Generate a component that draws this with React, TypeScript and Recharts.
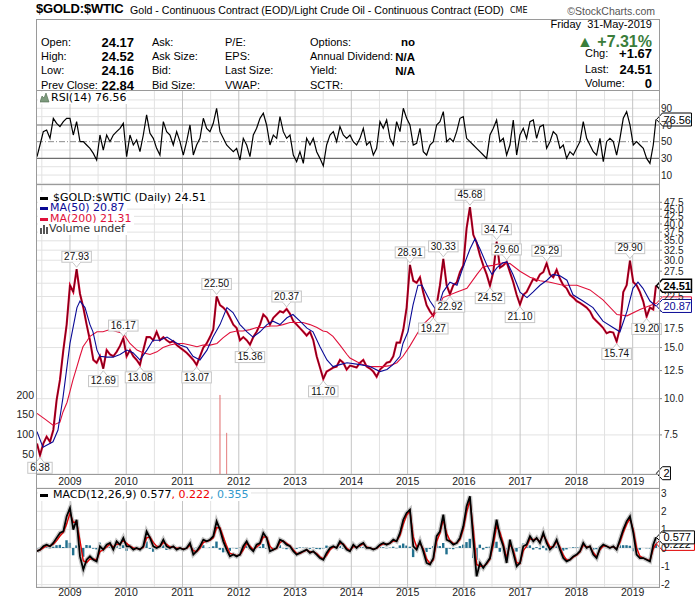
import React from 'react';
import { ComposedChart, Line, Bar, XAxis, YAxis, CartesianGrid, ReferenceLine, ReferenceDot } from 'recharts';

const ARIAL = '"Liberation Sans", Arial, Helvetica, sans-serif';
const VERD = '"DejaVu Sans", Verdana, sans-serif';

// ---------- DATA ----------
const dates = [
  2008.414, 2008.467, 2008.526, 2008.585, 2008.645, 2008.704, 2008.763, 2008.822, 2008.882, 2008.941,
  2009.000, 2009.059, 2009.118, 2009.178, 2009.237, 2009.296, 2009.355, 2009.415, 2009.474, 2009.533,
  2009.592, 2009.652, 2009.711, 2009.770, 2009.829, 2009.889, 2009.948, 2010.007, 2010.066, 2010.126,
  2010.185, 2010.244, 2010.303, 2010.362, 2010.422, 2010.481, 2010.540, 2010.599, 2010.659, 2010.718,
  2010.777, 2010.836, 2010.896, 2010.955, 2011.014, 2011.073, 2011.133, 2011.192, 2011.251, 2011.310,
  2011.370, 2011.429, 2011.488, 2011.547, 2011.606, 2011.666, 2011.725, 2011.784, 2011.843, 2011.903,
  2011.962, 2012.021, 2012.080, 2012.140, 2012.199, 2012.258, 2012.317, 2012.377, 2012.436, 2012.495,
  2012.554, 2012.614, 2012.673, 2012.732, 2012.791, 2012.850, 2012.910, 2012.969, 2013.028, 2013.087,
  2013.147, 2013.206, 2013.265, 2013.324, 2013.384, 2013.443, 2013.502, 2013.561, 2013.621, 2013.680,
  2013.739, 2013.798, 2013.857, 2013.917, 2013.976, 2014.035, 2014.094, 2014.154, 2014.213, 2014.272,
  2014.331, 2014.391, 2014.450, 2014.509, 2014.568, 2014.628, 2014.687, 2014.746, 2014.805, 2014.865,
  2014.924, 2014.983, 2015.042, 2015.101, 2015.161, 2015.220, 2015.279, 2015.338, 2015.398, 2015.457,
  2015.516, 2015.575, 2015.635, 2015.694, 2015.753, 2015.812, 2015.872, 2015.931, 2015.990, 2016.049,
  2016.108, 2016.168, 2016.227, 2016.286, 2016.345, 2016.405, 2016.464, 2016.523, 2016.582, 2016.641,
  2016.701, 2016.760, 2016.819, 2016.878, 2016.938, 2016.997, 2017.056, 2017.115, 2017.175, 2017.234,
  2017.293, 2017.352, 2017.412, 2017.471, 2017.530, 2017.589, 2017.649, 2017.708, 2017.767, 2017.826,
  2017.885, 2017.945, 2018.004, 2018.063, 2018.122, 2018.182, 2018.241, 2018.300, 2018.359, 2018.419,
  2018.478, 2018.537, 2018.596, 2018.656, 2018.715, 2018.774, 2018.833, 2018.893, 2018.952, 2019.011,
  2019.070, 2019.129, 2019.189, 2019.248, 2019.307, 2019.366, 2019.414,
];

const price = [
  7.0, 6.38, 7.0, 7.4, 7.1, 7.8, 9.9, 11.6, 14.7, 18.0,
  24.6, 23.3, 27.93, 23.0, 20.6, 18.0, 15.9, 13.6, 13.3, 14.0,
  12.69, 14.7, 14.2, 14.0, 14.5, 15.2, 16.17, 14.0, 14.7, 14.0,
  13.6, 13.08, 14.7, 16.3, 16.3, 15.9, 17.0, 15.9, 16.3, 15.9,
  15.6, 15.8, 15.3, 15.0, 14.7, 14.4, 14.0, 13.6, 13.07, 14.0,
  15.0, 15.5, 16.3, 17.3, 22.5, 21.0, 20.6, 20.0, 19.0, 18.0,
  17.5, 15.9, 16.3, 15.9, 15.36, 16.3, 17.0, 18.0, 19.5, 19.0,
  18.0, 19.0, 19.5, 20.0, 19.8, 20.37, 19.6, 18.5, 18.0, 17.5,
  17.0, 16.5, 17.0, 15.9, 14.0, 12.8, 11.7, 12.4, 12.6, 12.8,
  12.9, 13.6, 13.3, 12.6, 13.0, 12.9, 12.8, 13.3, 13.6, 12.9,
  12.7, 12.4, 11.9, 12.6, 12.9, 13.3, 13.4, 14.0, 15.6, 15.6,
  17.3, 20.6, 28.91, 25.5, 25.1, 26.2, 23.2, 21.0, 20.0, 19.27,
  21.0, 24.6, 30.33, 24.6, 22.92, 24.6, 25.1, 27.3, 28.8, 38.7,
  45.68, 36.7, 34.5, 31.2, 28.8, 26.8, 24.52, 27.3, 34.74, 28.3,
  28.8, 29.6, 27.3, 25.2, 22.8, 21.1, 22.8, 23.3, 24.6, 25.9,
  25.5, 26.8, 27.3, 29.29, 26.8, 26.2, 27.8, 25.9, 24.6, 24.0,
  22.8, 22.3, 21.7, 21.4, 21.0, 20.6, 20.0, 19.0, 18.5, 18.0,
  17.5, 16.8, 17.0, 16.9, 15.74, 17.5, 23.3, 24.6, 29.9, 25.2,
  24.6, 23.3, 21.6, 19.2, 20.6, 20.3, 24.51,
];

const rsi = [
  32, 46, 62, 64, 54, 78, 72, 68, 74, 78,
  78, 58, 74, 50, 50, 46, 42, 36, 28, 58,
  40, 58, 50, 58, 62, 66, 72, 32, 58, 46,
  52, 38, 58, 82, 60, 54, 42, 34, 74, 62,
  58, 46, 62, 50, 34, 50, 70, 34, 46, 54,
  78, 66, 62, 72, 90, 62, 54, 46, 42, 38,
  42, 28, 54, 46, 32, 58, 66, 78, 84, 70,
  46, 58, 54, 80, 62, 54, 58, 34, 26, 38,
  24, 54, 46, 54, 38, 30, 21, 46, 58, 62,
  50, 68, 58, 54, 58, 50, 46, 54, 66, 46,
  50, 34, 42, 74, 66, 76, 54, 46, 74, 62,
  90, 78, 70, 46, 48, 66, 38, 34, 46, 50,
  70, 74, 86, 50, 54, 50, 62, 78, 80, 54,
  50, 46, 42, 38, 34, 30, 58, 66, 76, 50,
  54, 34, 46, 76, 34, 58, 66, 54, 74, 76,
  54, 68, 70, 42, 50, 62, 58, 42, 46, 30,
  38, 34, 42, 50, 74, 54, 46, 38, 34, 54,
  26, 50, 54, 50, 34, 54, 78, 86, 70, 46,
  50, 46, 42, 30, 24, 46, 76.56,
];

const macd = [
  -0.18, -0.1, 0.09, 0.18, 0.09, 0.27, 0.55, 0.82, 0.9, 1.72,
  2.18, 1.0, 1.54, -0.46, -1.18, -0.64, -0.46, -0.64, -0.73, 0.09,
  -0.09, 0.18, 0.27, -0.09, 0.36, 0.18, 0.55, 0.09, 0.09, -0.09,
  0, -0.09, 0.09, 0.9, 0.55, 0.09, 0, 0.09, 0.45, 0.09,
  0, 0.09, -0.09, 0, -0.09, 0, 0.27, -0.36, -0.18, 0.09,
  0.45, 0.36, 0.45, 0.64, 1.45, 1.0, 0.36, -0.09, -0.46, -0.36,
  -0.46, -0.36, 0.09, 0.36, 0, -0.18, 0.18, 0.27, 0.82, 0.55,
  -0.18, -0.09, 0, 0.45, 0.36, 0.18, 0.09, -0.18, -0.36, -0.27,
  -0.18, -0.09, -0.27, -0.18, -0.36, -0.55, -0.64, -0.27, 0, 0.09,
  0, 0.36, 0.18, -0.09, -0.18, 0.18, 0, 0.18, 0.27, 0,
  0, -0.09, 0, 0.18, 0.27, 0.18, 0.27, 0.45, 0.36, 0.82,
  1.54, 1.91, 2.09, 0.09, -0.09, 0.36, -0.18, -0.82, -0.91, -0.55,
  0.64, 0.9, 1.82, 0.45, 0.36, 0.18, 0.27, 0.55, 1.18, 2.27,
  2.82, 0.45, -1.55, -0.82, -1.09, -0.82, -0.55, 0.45, 1.54, 0.64,
  0.09, -0.82, 0.45, -0.27, -1.0, -0.82, 0.09, 0.18, 0.64, 0.36,
  0.55, 0.27, 0.82, 0.27, -0.09, 0.09, 0.45, -0.09, -0.55, -0.73,
  -0.64, -0.46, -0.36, -0.18, 0.27, 0, 0.09, -0.36, -0.55, 0,
  0.18, 0.09, 0, 0.09, -0.09, 0.45, 1.0, 1.45, 1.72, 0.82,
  -0.36, -0.55, -0.55, -0.64, -0.73, 0.18, 0.577,
];

const signal = [
  -0.15, -0.12, 0.0, 0.12, 0.12, 0.2, 0.4, 0.65, 0.85, 1.3,
  1.9, 1.4, 1.4, 0.4, -0.7, -0.8, -0.6, -0.6, -0.65, -0.2,
  -0.1, 0.05, 0.2, 0.05, 0.2, 0.22, 0.4, 0.25, 0.1, 0.0,
  -0.03, -0.05, 0.02, 0.55, 0.6, 0.3, 0.1, 0.08, 0.3, 0.2,
  0.05, 0.06, -0.02, -0.01, -0.05, -0.02, 0.15, -0.15, -0.2, -0.02,
  0.3, 0.36, 0.42, 0.55, 1.1, 1.1, 0.6, 0.1, -0.3, -0.35,
  -0.42, -0.38, -0.1, 0.25, 0.1, -0.1, 0.05, 0.2, 0.6, 0.6,
  0.1, -0.1, -0.03, 0.3, 0.38, 0.25, 0.12, -0.1, -0.3, -0.3,
  -0.2, -0.12, -0.22, -0.2, -0.3, -0.48, -0.6, -0.4, -0.1, 0.05,
  0.02, 0.25, 0.22, 0.0, -0.15, 0.08, 0.05, 0.12, 0.23, 0.05,
  0.0, -0.06, -0.02, 0.12, 0.23, 0.2, 0.25, 0.38, 0.38, 0.68,
  1.3, 1.78, 2.02, 0.6, 0.05, 0.25, -0.05, -0.6, -0.85, -0.65,
  0.35, 0.8, 1.55, 0.8, 0.4, 0.25, 0.25, 0.45, 1.0, 1.95,
  2.6, 1.0, -0.9, -1.0, -1.0, -0.88, -0.62, 0.15, 1.2, 0.85,
  0.25, -0.55, 0.2, -0.1, -0.8, -0.85, -0.15, 0.1, 0.5, 0.45,
  0.5, 0.35, 0.7, 0.4, 0.05, 0.05, 0.35, 0.05, -0.4, -0.65,
  -0.65, -0.5, -0.4, -0.22, 0.15, 0.05, 0.08, -0.25, -0.48, -0.1,
  0.12, 0.1, 0.02, 0.06, -0.05, 0.3, 0.85, 1.3, 1.6, 1.0,
  0.0, -0.45, -0.55, -0.62, -0.7, -0.05, 0.222,
];

const hist = [
  -0.03, 0.02, 0.09, 0.06, -0.03, 0.07, 0.15, 0.17, 0.05, 0.42,
  0.28, -0.4, 0.14, -0.6, -0.48, 0.16, 0.14, -0.04, -0.08, 0.29,
  0.01, 0.13, 0.07, -0.14, 0.16, -0.04, 0.15, -0.16, -0.01, -0.09,
  0.03, -0.04, 0.07, 0.35, -0.05, -0.21, -0.1, 0.01, 0.15, -0.11,
  -0.05, 0.03, -0.07, 0.01, -0.04, 0.02, 0.12, -0.21, 0.02, 0.11,
  0.15, 0.0, 0.03, 0.09, 0.35, -0.1, -0.24, -0.19, -0.16, -0.01,
  -0.04, 0.02, 0.19, 0.11, -0.1, -0.08, 0.13, 0.07, 0.22, -0.05,
  -0.28, 0.01, 0.03, 0.15, -0.02, -0.07, -0.03, -0.08, -0.06, 0.03,
  0.02, 0.03, -0.05, 0.02, -0.06, -0.07, -0.04, 0.13, 0.1, 0.04,
  -0.02, 0.11, -0.04, -0.09, -0.03, 0.1, -0.05, 0.06, 0.04, -0.05,
  0, -0.03, 0.02, 0.06, 0.04, -0.02, 0.02, 0.07, -0.02, 0.14,
  0.24, 0.13, 0.07, -0.5, -0.14, 0.11, -0.13, -0.22, -0.06, 0.1,
  0.29, 0.1, 0.27, -0.35, -0.04, -0.07, 0.02, 0.1, 0.18, 0.32,
  0.5, -0.55, -0.65, 0.18, -0.09, 0.06, 0.07, 0.3, 0.34, -0.21,
  -0.16, -0.27, 0.25, -0.17, -0.2, 0.03, 0.24, 0.08, 0.14, -0.09,
  0.05, -0.08, 0.12, -0.13, -0.14, 0.04, 0.1, -0.14, -0.15, -0.08,
  0.01, 0.04, 0.04, 0.04, 0.12, -0.05, 0.01, -0.11, -0.07, 0.1,
  0.06, -0.01, -0.02, 0.03, -0.04, 0.15, 0.15, 0.15, 0.12, -0.18,
  -0.36, -0.1, 0.0, -0.02, -0.03, 0.23, 0.355,
];

const ma50Points: [number, number][] = [
  [2008.414, 7.7], [2008.52, 6.8], [2008.698, 7.1], [2008.787, 7.8], [2008.876, 10.1], [2008.947, 12.9],
  [2009.0, 15.5], [2009.053, 17.5], [2009.124, 20.6], [2009.178, 21.7], [2009.267, 20.6], [2009.355, 18.0],
  [2009.409, 17.0], [2009.48, 14.7], [2009.533, 14.0], [2009.658, 13.9], [2009.764, 13.9], [2009.889, 14.2],
  [2010.013, 14.7], [2010.12, 14.4], [2010.244, 13.6], [2010.368, 14.7], [2010.475, 15.9], [2010.599, 15.9],
  [2010.724, 16.3], [2010.831, 15.8], [2010.955, 15.3], [2011.079, 15.0], [2011.186, 14.0], [2011.31, 13.6],
  [2011.435, 14.7], [2011.541, 16.3], [2011.666, 18.0], [2011.79, 20.6], [2011.897, 19.8], [2012.021, 18.0],
  [2012.146, 17.0], [2012.252, 16.3], [2012.377, 17.0], [2012.501, 18.0], [2012.608, 18.5], [2012.732, 18.0],
  [2012.856, 19.0], [2012.963, 19.5], [2013.088, 18.5], [2013.212, 17.5], [2013.319, 17.0], [2013.443, 15.1],
  [2013.567, 13.6], [2013.674, 12.9], [2013.798, 13.1], [2013.923, 13.3], [2014.154, 13.1], [2014.331, 12.9],
  [2014.509, 12.4], [2014.634, 12.6], [2014.74, 13.1], [2014.865, 14.0], [2014.918, 15.5], [2015.007, 17.0],
  [2015.096, 21.0], [2015.185, 24.6], [2015.256, 24.6], [2015.398, 21.7], [2015.522, 20.0], [2015.629, 23.3],
  [2015.753, 25.2], [2015.878, 24.6], [2015.984, 28.3], [2016.109, 32.8], [2016.198, 35.6], [2016.287, 32.8],
  [2016.411, 28.8], [2016.5, 26.8], [2016.589, 28.3], [2016.695, 29.4], [2016.767, 29.6], [2016.873, 26.8],
  [2016.997, 23.3], [2017.122, 22.3], [2017.228, 23.3], [2017.353, 24.6], [2017.477, 25.6], [2017.584, 26.8],
  [2017.708, 26.5], [2017.832, 25.6], [2017.939, 22.8], [2018.117, 21.7], [2018.295, 20.6], [2018.472, 18.5],
  [2018.65, 17.6], [2018.774, 17.0], [2018.899, 20.0], [2019.005, 24.0], [2019.094, 25.2], [2019.183, 24.0],
  [2019.307, 21.7], [2019.414, 20.87],
];

const ma200Points: [number, number][] = [
  [2008.414, 8.9], [2008.556, 8.5], [2008.698, 8.1], [2008.822, 8.3], [2008.876, 9.0], [2008.947, 9.7],
  [2009.0, 10.6], [2009.053, 11.6], [2009.124, 12.9], [2009.178, 14.0], [2009.231, 15.1], [2009.302, 15.8],
  [2009.355, 16.4], [2009.48, 17.0], [2009.586, 17.0], [2009.711, 17.3], [2009.835, 17.0], [2009.942, 16.8],
  [2010.066, 15.5], [2010.191, 14.7], [2010.297, 14.4], [2010.422, 14.2], [2010.546, 14.5], [2010.653, 15.0],
  [2010.777, 15.3], [2010.902, 15.5], [2011.008, 15.5], [2011.133, 15.3], [2011.257, 15.1], [2011.364, 15.3],
  [2011.488, 15.3], [2011.612, 15.5], [2011.719, 16.2], [2011.844, 16.9], [2011.968, 17.1], [2012.075, 17.1],
  [2012.199, 17.3], [2012.323, 17.6], [2012.43, 17.6], [2012.554, 17.8], [2012.679, 17.8], [2012.785, 18.0],
  [2012.91, 18.3], [2013.034, 18.3], [2013.141, 18.3], [2013.265, 18.0], [2013.39, 17.6], [2013.496, 17.1],
  [2013.567, 17.0], [2013.674, 16.4], [2013.798, 15.3], [2013.923, 14.2], [2013.976, 13.8], [2014.1, 13.4],
  [2014.207, 13.1], [2014.331, 12.9], [2014.456, 12.9], [2014.563, 12.9], [2014.687, 13.0], [2014.811, 13.3],
  [2014.918, 14.0], [2015.042, 15.2], [2015.167, 16.7], [2015.274, 18.0], [2015.398, 19.0], [2015.522, 20.0],
  [2015.629, 22.3], [2015.878, 23.3], [2016.055, 24.0], [2016.233, 26.8], [2016.34, 28.5], [2016.518, 28.8],
  [2016.695, 29.4], [2016.82, 29.2], [2016.997, 27.5], [2017.175, 26.2], [2017.353, 25.5], [2017.53, 25.2],
  [2017.761, 24.6], [2018.01, 24.6], [2018.241, 23.7], [2018.472, 21.9], [2018.721, 19.5], [2018.899, 19.3],
  [2019.13, 20.3], [2019.414, 21.31],
];

const volumeDates = [2011.666, 2011.784];
const volumeValues = [200, 104];

const calloutDates = [2008.467, 2009.118, 2009.592, 2009.948, 2010.244, 2011.251, 2011.606, 2012.199, 2012.85, 2013.502, 2015.042, 2015.457, 2015.635, 2015.753, 2016.108, 2016.464, 2016.582, 2016.76, 2016.997, 2017.471, 2018.715, 2018.952, 2019.248];
const calloutValues = [6.38, 27.93, 12.69, 16.17, 13.08, 13.07, 22.5, 15.36, 20.37, 11.7, 28.91, 19.27, 30.33, 22.92, 45.68, 24.52, 34.74, 29.6, 21.1, 29.29, 15.74, 29.9, 19.2];
const calloutAbove = [false, true, false, true, false, false, true, false, true, false, true, false, true, false, true, false, true, true, false, true, false, true, false];

const yearTicks = [2009, 2010, 2011, 2012, 2013, 2014, 2015, 2016, 2017, 2018, 2019];
const halfYears = [2008.5, 2009.5, 2010.5, 2011.5, 2012.5, 2013.5, 2014.5, 2015.5, 2016.5, 2017.5, 2018.5];
const priceTicks = [7.5, 10, 12.5, 15, 17.5, 20, 22.5, 25, 27.5, 30, 32.5, 35, 37.5, 40, 42.5, 45, 47.5];
const coveredPriceTicks = [20, 25];
const volumeTicks = [50, 100, 150, 200];
const rsiTicks = [10, 30, 50, 70, 90];
const rsiGrid = [0, 10, 20, 40, 60, 80, 90, 100];
const macdTicks = [-2, -1, 0, 1, 2, 3];

const lastClose = 24.51, lastMa50 = 20.87, lastMa200 = 21.31, lastRsi = 76.56;
const lastMacd = 0.577, lastSignal = 0.222, lastHist = 0.355, lastVolume = 2;

// ---------- BUILD ----------
const X_DOMAIN: [number, number] = [2008.414, 2019.468];
const rows = dates.map((t, i) => {
  const j = volumeDates.findIndex((d) => Math.abs(d - t) < 0.0005);
  return { t, price: price[i], rsi: rsi[i], macd: macd[i], signal: signal[i], hist: hist[i], vol: j >= 0 ? volumeValues[j] : undefined };
});
const ma50Rows = ma50Points.map(([t, v]) => ({ t, v }));
const ma200Rows = ma200Points.map(([t, v]) => ({ t, v }));
const lastT = dates[dates.length - 1];

// ---------- LABEL SHAPES ----------
const center = (props: any) => {
  const vb = props.viewBox || {};
  return { cx: (vb.x ?? 0) + (vb.width ?? 0) / 2, cy: (vb.y ?? 0) + (vb.height ?? 0) / 2 };
};

const Callout = (props: any) => {
  const { cx, cy } = center(props);
  const text: string = props.text;
  const w = text.length * 5.1 + 4;
  const h = 11;
  const stroke = '#c6c6c6';
  if (props.above) {
    const tip = cy - 2;
    const bb = tip - 5;
    const bt = bb - h;
    return (
      <g>
        <rect x={cx - w / 2} y={bt} width={w} height={h} fill="#fff" stroke={stroke} />
        <path d={`M${cx - 4},${bb} L${cx},${tip} L${cx + 4},${bb}`} fill="#fff" stroke={stroke} />
        <line x1={cx - 3.4} x2={cx + 3.4} y1={bb} y2={bb} stroke="#fff" strokeWidth={1.4} />
        <text x={cx} y={bt + h - 2.2} textAnchor="middle" fontSize={10} fontFamily={ARIAL} fill="#111">{text}</text>
      </g>
    );
  }
  const tip = cy + 2;
  const bt = tip + 5;
  return (
    <g>
      <rect x={cx - w / 2} y={bt} width={w} height={h} fill="#fff" stroke={stroke} />
      <path d={`M${cx - 4},${bt} L${cx},${tip} L${cx + 4},${bt}`} fill="#fff" stroke={stroke} />
      <line x1={cx - 3.4} x2={cx + 3.4} y1={bt} y2={bt} stroke="#fff" strokeWidth={1.4} />
      <text x={cx} y={bt + h - 2.2} textAnchor="middle" fontSize={10} fontFamily={ARIAL} fill="#111">{text}</text>
    </g>
  );
};

const Tag = (props: any) => {
  const { cx, cy } = center(props);
  const { text, color = '#000', textColor = '#000', bold = false, width = 29 } = props;
  const x0 = cx + 0.5;
  const hh = 6.5;
  const pts = `${x0},${cy} ${x0 + 6},${cy - hh} ${x0 + 6 + width},${cy - hh} ${x0 + 6 + width},${cy + hh} ${x0 + 6},${cy + hh}`;
  return (
    <g>
      <polygon points={pts} fill="#fff" stroke={color} strokeWidth={bold ? 1.5 : 1} />
      <text x={x0 + 7} y={cy + 4} fontSize={11} fontWeight={bold ? 'bold' : 'normal'} fontFamily={ARIAL} fill={textColor}>{text}</text>
    </g>
  );
};

const tickStyle = { fontSize: 10, fill: '#222', fontFamily: ARIAL };
const xTickStyle = { fontSize: 10.5, fill: '#222', fontFamily: ARIAL };

// ---------- HTML helpers ----------
const Txt = ({ x, y, children, size = 11, bold = false, color = '#000', right = false, font = ARIAL, spacing = 0 }: any) => {
  const style: React.CSSProperties = {
    position: 'absolute', top: y - size * 0.6, fontSize: size, lineHeight: `${Math.round(size * 1.2)}px`,
    fontFamily: font, fontWeight: bold ? 'bold' : 'normal', color, whiteSpace: 'nowrap', letterSpacing: spacing,
  };
  if (right) style.right = 700 - x; else style.left = x;
  return <div style={style}>{children}</div>;
};

const LegendRow = ({ y, textX, icon, children }: any) => (
  <div style={{ position: 'absolute', left: 38, top: y - 6, height: 12, paddingLeft: textX - 38, paddingRight: 2, background: '#fff', fontFamily: VERD, fontSize: 11, lineHeight: '12px', whiteSpace: 'nowrap' }}>
    <div style={{ position: 'absolute', left: 2, top: 0, width: 10, height: 12 }}>{icon}</div>
    {children}
  </div>
);

const Dash = ({ color }: any) => <div style={{ position: 'absolute', left: 0, top: 5, width: 8, height: 3, background: color }} />;

const quoteLabelsA = ['Open:', 'High:', 'Low:', 'Prev Close:'];
const quoteValuesA = ['24.17', '24.52', '24.16', '22.84'];
const quoteLabelsB = ['Ask:', 'Ask Size:', 'Bid:', 'Bid Size:'];
const quoteLabelsC = ['P/E:', 'EPS:', 'Last Size:', 'VWAP:'];
const quoteLabelsD = ['Options:', 'Annual Dividend:', 'Yield:', 'SCTR:'];
const quoteValuesD = ['no', 'N/A', 'N/A', ''];

const vLines = (keyPrefix: string) => [
  ...halfYears.map((v) => <ReferenceLine key={`${keyPrefix}h${v}`} x={v} stroke="#e2e2e2" ifOverflow="hidden" />),
  ...yearTicks.map((v) => <ReferenceLine key={`${keyPrefix}y${v}`} x={v} stroke="#c4c4c4" ifOverflow="hidden" />),
];

export default function App() {
  const rowYs = [42.3, 56.7, 71, 85.3];
  return (
    <div style={{ position: 'fixed', left: 0, top: 0, width: 700, height: 603, background: '#fff', overflow: 'hidden' }}>
      {/* RSI panel */}
      <div style={{ position: 'absolute', left: 0, top: 81 }}>
        <ComposedChart width={700} height={109} data={rows} margin={{ top: 10, right: 0, bottom: 5, left: 37 }}>
          <XAxis type="number" dataKey="t" domain={X_DOMAIN} allowDataOverflow hide />
          <YAxis orientation="right" width={41} domain={[-1.9, 110.7]} allowDataOverflow ticks={rsiTicks} interval={0}
            axisLine={false} tickLine={false} tickSize={0} tickMargin={2} tick={tickStyle} />
          {rsiGrid.map((v) => <ReferenceLine key={`rg${v}`} y={v} stroke="#e2e2e2" />)}
          {vLines('r')}
          <ReferenceLine y={70} stroke="#6e6e6e" strokeWidth={1.2} />
          <ReferenceLine y={30} stroke="#6e6e6e" strokeWidth={1.2} />
          <ReferenceLine y={50} stroke="#8a8a8a" strokeDasharray="6 2 1 2" />
          <Line dataKey="rsi" stroke="#000" strokeWidth={1.2} dot={false} isAnimationActive={false} />
          <ReferenceDot x={lastT} y={lastRsi} r={0.1} fill="none" stroke="none" label={<Tag text={lastRsi.toFixed(2)} width={29} />} />
        </ComposedChart>
      </div>

      {/* Main price panel */}
      <div style={{ position: 'absolute', left: 0, top: 175 }}>
        <ComposedChart width={700} height={319} data={rows} margin={{ top: 10, right: 0, bottom: 0, left: 0 }}>
          <XAxis type="number" dataKey="t" domain={X_DOMAIN} allowDataOverflow ticks={yearTicks} interval={0} height={20}
            tickSize={0} tickMargin={4} axisLine={false} tickLine={false} tick={xTickStyle} />
          <YAxis orientation="right" width={41} scale="log" domain={[5.5, 54.5]} allowDataOverflow ticks={priceTicks} interval={0}
            axisLine={false} tickLine={{ stroke: '#888' }} tickSize={3} tickMargin={2} tick={tickStyle}
            tickFormatter={(v: number) => (coveredPriceTicks.includes(v) ? '' : v.toFixed(1))} />
          <YAxis yAxisId="v" orientation="left" width={37} domain={[0, 731.6]} allowDataOverflow ticks={volumeTicks} interval={0}
            axisLine={false} tickLine={false} tickSize={0} tickMargin={3} tick={{ ...tickStyle, fontSize: 10.5 }} />
          <CartesianGrid vertical={false} stroke="#e2e2e2" />
          {vLines('m')}
          <Bar yAxisId="v" dataKey="vol" barSize={2} fill="#f6caca" stroke="#e07070" strokeWidth={0.6} isAnimationActive={false} />
          <Line dataKey="price" stroke="#d6002c" strokeWidth={2.1} dot={false} isAnimationActive={false} />
          <Line dataKey="price" stroke="#000" strokeWidth={0.6} strokeOpacity={0.75} dot={false} isAnimationActive={false} />
          <Line data={ma200Rows} dataKey="v" stroke="#e0103a" strokeWidth={1.1} dot={false} isAnimationActive={false} />
          <Line data={ma50Rows} dataKey="v" stroke="#0a0a96" strokeWidth={1.1} dot={false} isAnimationActive={false} />
          {calloutDates.map((d, i) => (
            <ReferenceDot key={`c${i}`} x={d} y={calloutValues[i]} r={0.1} fill="none" stroke="none" ifOverflow="visible"
              label={<Callout text={calloutValues[i].toFixed(2)} above={calloutAbove[i]} />} />
          ))}
          <ReferenceDot x={lastT} y={lastMa200} r={0.1} fill="none" stroke="none" label={<Tag text={lastMa200.toFixed(2)} color="#e0103a" textColor="#e0103a" />} />
          <ReferenceDot x={lastT} y={lastMa50} r={0.1} fill="none" stroke="none" label={<Tag text={lastMa50.toFixed(2)} color="#0a0a96" textColor="#0a0a96" />} />
          <ReferenceDot x={lastT} y={lastClose} r={0.1} fill="none" stroke="none" label={<Tag text={lastClose.toFixed(2)} bold />} />
          <ReferenceDot yAxisId="v" x={lastT} y={lastVolume} r={0.1} fill="none" stroke="none" label={<Tag text={String(lastVolume)} width={8} />} />
        </ComposedChart>
      </div>

      {/* MACD panel */}
      <div style={{ position: 'absolute', left: 0, top: 478 }}>
        <ComposedChart width={700} height={125} data={rows} margin={{ top: 10, right: 0, bottom: 0, left: 37 }}>
          <XAxis type="number" dataKey="t" domain={X_DOMAIN} allowDataOverflow ticks={yearTicks} interval={0} height={16}
            tickSize={0} tickMargin={2} axisLine={false} tickLine={false} tick={xTickStyle} />
          <YAxis orientation="right" width={41} domain={[-2.13, 3.27]} allowDataOverflow ticks={macdTicks} interval={0}
            axisLine={false} tickLine={false} tickSize={0} tickMargin={2} tick={tickStyle} />
          <CartesianGrid vertical={false} stroke="#e2e2e2" />
          {vLines('d')}
          <Bar dataKey="hist" barSize={3} fill="#22708e" isAnimationActive={false} />
          <Line dataKey="macd" stroke="#c8c8c8" strokeWidth={4.5} dot={false} isAnimationActive={false} />
          <Line dataKey="signal" stroke="#e00000" strokeWidth={1.4} dot={false} isAnimationActive={false} />
          <Line dataKey="macd" stroke="#000" strokeWidth={1.8} dot={false} isAnimationActive={false} />
          <ReferenceDot x={lastT} y={lastSignal} r={0.1} fill="none" stroke="none" label={<Tag text={lastSignal.toFixed(3)} color="#e00000" width={32} />} />
          <ReferenceDot x={lastT} y={lastMacd} r={0.1} fill="none" stroke="none" label={<Tag text={lastMacd.toFixed(3)} width={32} />} />
        </ComposedChart>
      </div>

      {/* frame & separators */}
      <div style={{ position: 'absolute', left: 36, top: 19, width: 624, height: 569, border: '1px solid #9a9a9a', boxSizing: 'border-box', pointerEvents: 'none' }} />
      <div style={{ position: 'absolute', left: 36, top: 90, width: 624, height: 1, background: '#9a9a9a' }} />
      <div style={{ position: 'absolute', left: 36, top: 184, width: 624, height: 1, background: '#9a9a9a' }} />
      <div style={{ position: 'absolute', left: 36, top: 474, width: 624, height: 1, background: '#9a9a9a' }} />
      <div style={{ position: 'absolute', left: 36, top: 488, width: 624, height: 1, background: '#9a9a9a' }} />

      {/* header */}
      <Txt x={36} y={9} size={13} bold spacing={-0.2}>$GOLD:$WTIC</Txt>
      <Txt x={130} y={10} size={10.6}>Gold - Continuous Contract (EOD)/Light Crude Oil - Continuous Contract (EOD)</Txt>
      <Txt x={510} y={10.5} size={8} font={VERD}>CME</Txt>
      <Txt x={655} y={11} size={10.5} color="#555" right>©StockCharts.com</Txt>
      {quoteLabelsA.map((s, i) => <Txt key={`qa${i}`} x={41} y={rowYs[i]}>{s}</Txt>)}
      {quoteValuesA.map((s, i) => <Txt key={`qv${i}`} x={134} y={rowYs[i]} size={13} bold right>{s}</Txt>)}
      {quoteLabelsB.map((s, i) => <Txt key={`qb${i}`} x={152} y={rowYs[i]}>{s}</Txt>)}
      {quoteLabelsC.map((s, i) => <Txt key={`qc${i}`} x={225} y={rowYs[i]}>{s}</Txt>)}
      {quoteLabelsD.map((s, i) => <Txt key={`qd${i}`} x={310} y={rowYs[i]}>{s}</Txt>)}
      {quoteValuesD.map((s, i) => <Txt key={`qdv${i}`} x={415} y={rowYs[i]} size={11.5} bold right>{s}</Txt>)}
      <Txt x={652} y={25} right>Friday&nbsp;&nbsp;31-May-2019</Txt>
      <Txt x={652} y={41.5} size={16} bold color="#3b7d3b" right>▲ +7.31%</Txt>
      <Txt x={585} y={54}>Chg:</Txt>
      <Txt x={652} y={54} size={13} bold right>+1.67</Txt>
      <Txt x={585} y={70}>Last:</Txt>
      <Txt x={652} y={70} size={13} bold right>24.51</Txt>
      <Txt x={585} y={84}>Volume:</Txt>
      <Txt x={652} y={84} size={13} bold right>0</Txt>

      {/* RSI legend */}
      <LegendRow y={98.3} textX={51} icon={
        <svg width={10} height={12}><polygon points="0,10 2,4 4,6 6,1 9,10" fill="#7d9a7d" stroke="#4d6a4d" strokeWidth={0.6} /></svg>
      }>RSI(14) {lastRsi.toFixed(2)}</LegendRow>

      {/* main legend */}
      <LegendRow y={197.7} textX={53} icon={<Dash color="#000" />}>$GOLD:$WTIC (Daily) {lastClose.toFixed(2)}</LegendRow>
      <LegendRow y={208.3} textX={50} icon={<Dash color="#0a0a96" />}><span style={{ color: '#0a0a96' }}>MA(50) {lastMa50.toFixed(2)}</span></LegendRow>
      <LegendRow y={218.8} textX={50} icon={<Dash color="#e0103a" />}><span style={{ color: '#e0103a' }}>MA(200) {lastMa200.toFixed(2)}</span></LegendRow>
      <LegendRow y={229.3} textX={49} icon={
        <svg width={10} height={12}><rect x={0} y={5} width={2} height={6} fill="#555" /><rect x={3} y={2} width={2} height={9} fill="#555" /><rect x={6} y={4} width={2} height={7} fill="#555" /></svg>
      }><span style={{ color: '#333' }}>Volume undef</span></LegendRow>

      {/* MACD legend */}
      <LegendRow y={495} textX={53} icon={<Dash color="#000" />}>
        MACD(12,26,9) {lastMacd.toFixed(3)}<span style={{ color: '#ee0000' }}>, {lastSignal.toFixed(3)}</span><span style={{ color: '#3399cc' }}>, {lastHist.toFixed(3)}</span>
      </LegendRow>
    </div>
  );
}
